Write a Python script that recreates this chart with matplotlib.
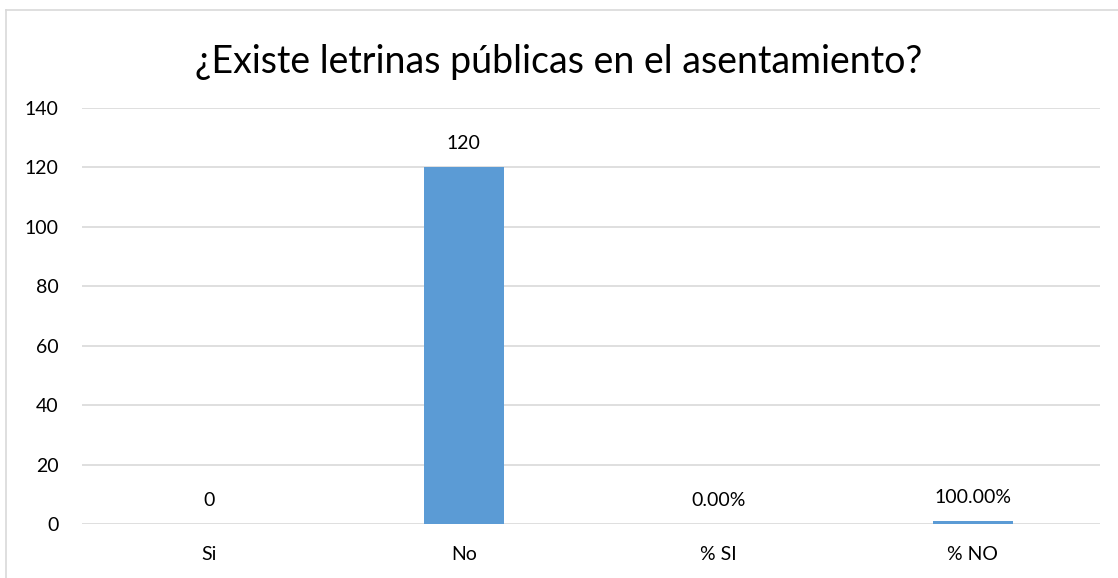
import matplotlib
matplotlib.use("Agg")
import matplotlib.pyplot as plt
from matplotlib.lines import Line2D

categories = ["Si", "No", "% SI", "% NO"]
values = [0, 120, 0, 1]
labels = ["0", "120", "0.00%", "100.00%"]
title = "¿Existe letrinas públicas en el asentamiento?"

plt.rcParams['font.family'] = ['Lato', 'DejaVu Sans']

W, H = 1118, 578
fig = plt.figure(figsize=(W / 100, H / 100), dpi=100)
ax = fig.add_axes([82 / W, 1 - 524 / H, (1100 - 82) / W, (524 - 108) / H])

x = range(len(categories))
ax.bar(x, values, width=0.314, color="#5B9BD5", zorder=3)
for xi, v, lab in zip(x, values, labels):
    ax.annotate(lab, (xi, v), xytext=(0, 11), textcoords="offset points",
                ha="center", va="bottom", fontsize=14, color="#000000")

ax.set_xlim(-0.5, len(categories) - 0.5)
ax.set_ylim(0, 140)
ax.set_yticks(range(0, 141, 20))
ax.set_xticks(list(x))
ax.set_xticklabels(categories)
ax.tick_params(axis="both", length=0, labelsize=14, colors="#000000")
ax.tick_params(axis="y", pad=17)
ax.tick_params(axis="x", pad=16)
ax.grid(axis="y", color="#D9D9D9", linewidth=1.2, zorder=0)
for s in ax.spines.values():
    s.set_visible(False)

fig.text(0.5, 1 - 62 / H, title, ha="center", va="center", fontsize=27, color="#000000")

# chart border (top and left)
fig.add_artist(Line2D([6 / W, 6 / W], [0, 1 - 10 / H], color="#D9D9D9", linewidth=1.2, transform=fig.transFigure))
fig.add_artist(Line2D([6 / W, 1], [1 - 10 / H, 1 - 10 / H], color="#D9D9D9", linewidth=1.2, transform=fig.transFigure))

fig.savefig("out.png", dpi=100)
